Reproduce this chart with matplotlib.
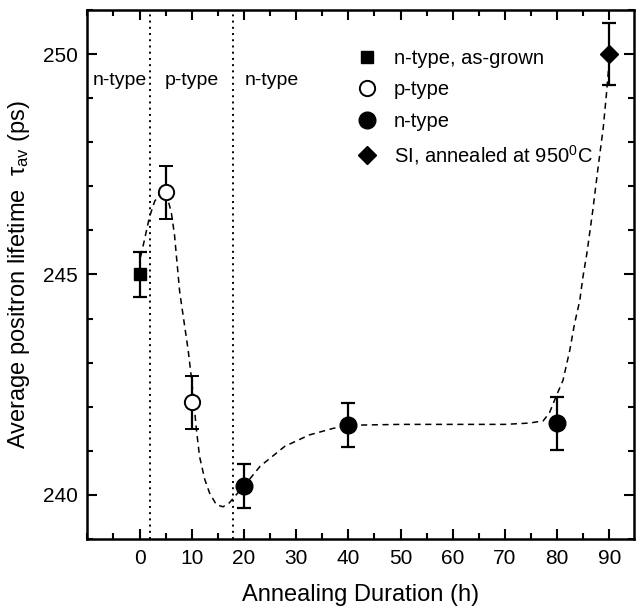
import matplotlib
matplotlib.use('Agg')
import matplotlib.pyplot as plt
from matplotlib.ticker import MultipleLocator

plt.rcParams['font.family'] = ['Liberation Sans', 'DejaVu Sans']
plt.rcParams['mathtext.fontset'] = 'custom'
plt.rcParams['mathtext.rm'] = 'Liberation Sans'
plt.rcParams['mathtext.it'] = 'Liberation Sans:italic'
plt.rcParams['mathtext.default'] = 'regular'

# measured points (annealing hours, lifetime ps, error ps)
asgrown_x = [0]
asgrown_y = [245.0]
asgrown_err = [0.5]

ptype_x = [5, 10]
ptype_y = [246.87, 242.1]
ptype_err = [0.6, 0.6]

ntype_x = [20, 40, 80]
ntype_y = [240.2, 241.58, 241.63]
ntype_err = [0.5, 0.5, 0.6]

si_x = [90]
si_y = [250.0]
si_err = [0.7]

# guide-to-the-eye curve
guide_x = [0.2, 0.6, 1.9, 2.9, 4.0, 5.0, 6.1, 6.7, 7.7, 9.3, 10.0, 10.9, 11.5, 12.5, 13.4,
           14.7, 16.0, 17.2, 18.5, 20.0, 23.1, 27.8, 32.5, 37.1, 40.0, 50.0, 60.0, 70.0,
           74.7, 77.3, 78.5, 79.8, 81.1, 82.4, 83.3, 84.3, 84.9, 85.7, 86.8, 87.8, 88.8,
           89.4, 90.0]
guide_y = [245.4, 245.6, 246.3, 246.66, 246.85, 246.9, 246.4, 245.9, 244.6, 243.3, 242.6,
           241.48, 240.87, 240.35, 240.05, 239.78, 239.73, 239.82, 240.0, 240.2, 240.65,
           241.1, 241.36, 241.51, 241.58, 241.6, 241.6, 241.6, 241.63, 241.68, 241.86,
           242.24, 242.6, 243.28, 243.88, 244.4, 244.93, 245.5, 246.45, 247.41, 248.32,
           249.07, 249.9]

boundaries = [2.0, 18.0]
region_labels = ['n-type', 'p-type', 'n-type']
region_x = [-9.0, 10.1, 25.4]

fig = plt.figure(figsize=(6.39, 6.10), dpi=100)
ax = fig.add_axes([0.1366, 0.1164, 0.8556, 0.8672])

ax.plot(guide_x, guide_y, color='black', ls=(0, (4, 3)), lw=1.1, zorder=1)
for b in boundaries:
    ax.axvline(b, color='black', ls=(0, (1, 2.2)), lw=1.4, zorder=1)

ekw = dict(color='black', ecolor='black', elinewidth=1.6, capsize=5, capthick=1.6, ls='none', zorder=3)
ax.errorbar(asgrown_x, asgrown_y, yerr=asgrown_err, marker='s', ms=9, mfc='black', **ekw,
            label='n-type, as-grown')
ax.errorbar(ptype_x, ptype_y, yerr=ptype_err, marker='o', ms=11, mfc='white', mew=1.4, **ekw,
            label='p-type')
ax.errorbar(ntype_x, ntype_y, yerr=ntype_err, marker='o', ms=12, mfc='black', **ekw,
            label='n-type')
ax.errorbar(si_x, si_y, yerr=si_err, marker='D', ms=9, mfc='black', **ekw,
            label='SI, annealed at 950$^{0}$C')

for lab, xx in zip(region_labels, region_x):
    ha = 'left' if xx < 0 else 'center'
    ax.text(xx, 249.4, lab, fontsize=14, ha=ha, va='center')

ax.set_xlim(-10, 94.7)
ax.set_ylim(239, 251)
ax.xaxis.set_major_locator(MultipleLocator(10))
ax.xaxis.set_minor_locator(MultipleLocator(5))
ax.yaxis.set_major_locator(MultipleLocator(5))
ax.yaxis.set_minor_locator(MultipleLocator(1))
ax.set_xticks(range(0, 91, 10))
ax.tick_params(which='both', direction='in', top=True, right=True, width=1.5)
ax.tick_params(which='major', length=7, labelsize=15, pad=7)
ax.tick_params(which='minor', length=4)
for s in ax.spines.values():
    s.set_linewidth(1.8)

ax.set_xlabel('Annealing Duration (h)', fontsize=17, labelpad=12)
ax.set_ylabel('Average positron lifetime  $\\tau_{av}$ (ps)', fontsize=17, labelpad=8)

handles, labels = ax.get_legend_handles_labels()
handles = [h[0] for h in handles]
ax.legend(handles, labels, loc='upper left', bbox_to_anchor=(0.4925, 0.927), frameon=False,
          fontsize=14.5, handlelength=1.0, handletextpad=0.85, labelspacing=0.62, borderpad=0,
          borderaxespad=0)

fig.savefig('out.png', dpi=100)
